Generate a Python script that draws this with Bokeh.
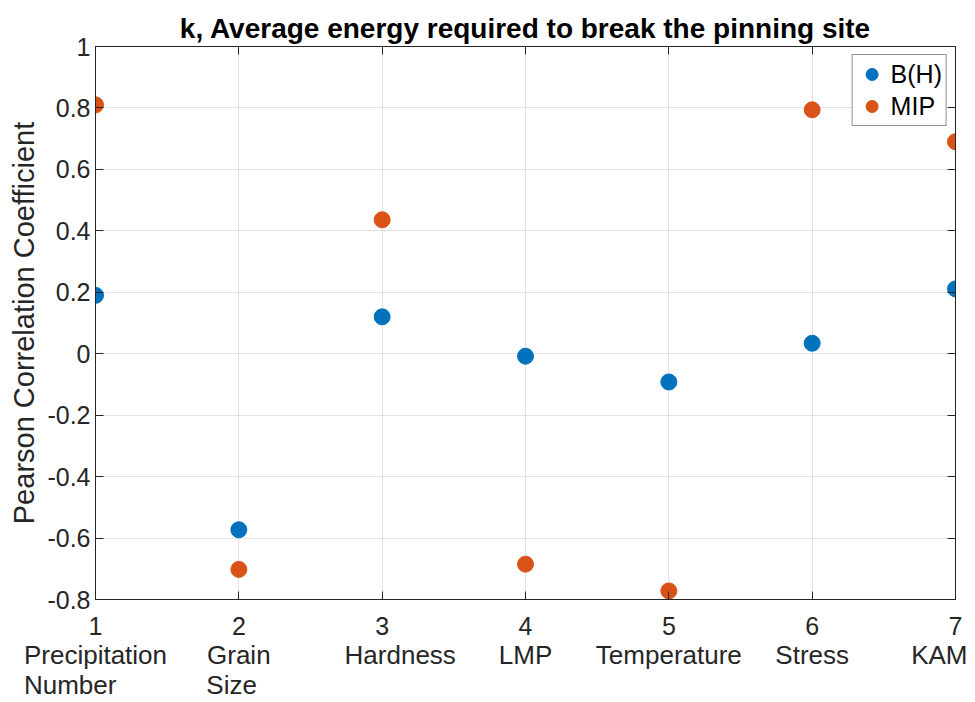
from bokeh.plotting import figure
from bokeh.models import (LinearAxis, FixedTicker, Range1d, CustomJSTickFormatter,
                          Legend, LegendItem, ColumnDataSource)
from bokeh.embed import file_html
from bokeh.resources import INLINE

# ---- data ----
x_pos = [1, 2, 3, 4, 5, 6, 7]
categories = ["Precipitation\nNumber", "Grain\nSize", "Hardness", "LMP",
              "Temperature", "Stress", "KAM"]
bh_values = [0.19, -0.573, 0.12, -0.008, -0.092, 0.034, 0.211]
mip_values = [0.81, -0.702, 0.436, -0.685, -0.772, 0.794, 0.69]
y_ticks = [-0.8, -0.6, -0.4, -0.2, 0, 0.2, 0.4, 0.6, 0.8, 1]
y_tick_labels = ["-0.8", "-0.6", "-0.4", "-0.2", "0", "0.2", "0.4", "0.6", "0.8", "1"]
x_tick_labels = ["1", "2", "3", "4", "5", "6", "7"]

FONT = "Liberation Sans"
AX = "#262626"
BLUE = "#0072BD"
ORANGE = "#D95319"
NB = "\u00a0"

# lines of the two-line labels are left-aligned in the original: pad the
# shorter second line with no-break spaces so that the centred block looks the same;
# "Hardness" sits a little right of its tick in the original
def display_label(label):
    lines = label.split("\n")
    if len(lines) == 1:
        return NB * 5 + label if label == "Hardness" else label
    first, second = lines
    pad = {"Number": 7, "Size": 2}.get(second, 0)
    return first + "\n" + second + NB * pad

cat_display = [display_label(c) for c in categories]

p = figure(width=967, height=702, output_backend="svg", toolbar_location=None,
           x_range=Range1d(1, 7), y_range=Range1d(-0.8, 1),
           title="k, Average energy required to break the pinning site",
           min_border_left=95, min_border_right=12, min_border_top=46,
           min_border_bottom=100)

p.title.text_font = FONT
p.title.text_font_size = "28px"
p.title.text_font_style = "bold"
p.title.text_color = "#000000"
p.title.align = "center"
p.title.standoff = 6

src_bh = ColumnDataSource(dict(x=x_pos, y=bh_values))
src_mip = ColumnDataSource(dict(x=x_pos, y=mip_values))
r_bh = p.scatter("x", "y", source=src_bh, size=16, color=BLUE, line_color=BLUE)
r_mip = p.scatter("x", "y", source=src_mip, size=16, color=ORANGE, line_color=ORANGE)

xt = FixedTicker(ticks=x_pos)
yt = FixedTicker(ticks=y_ticks)

# grid
p.xgrid.ticker = xt
p.ygrid.ticker = yt
for g in (p.xgrid, p.ygrid):
    g.grid_line_color = AX
    g.grid_line_alpha = 0.13
    g.grid_line_width = 1

p.outline_line_color = AX
p.outline_line_width = 1

def style_axis(ax, size="25px"):
    ax.axis_line_color = AX
    ax.axis_line_width = 1
    ax.major_tick_line_color = AX
    ax.major_tick_in = 8
    ax.major_tick_out = 0
    ax.minor_tick_in = 0
    ax.minor_tick_out = 0
    ax.major_label_text_font = FONT
    ax.major_label_text_font_size = size
    ax.major_label_text_color = AX

# x axis (numbers)
xa = p.xaxis[0]
xa.ticker = xt
xa.major_label_overrides = {i: s for i, s in zip(x_pos, x_tick_labels)}
style_axis(xa)
xa.major_label_standoff = 17

# category axis below
ca = LinearAxis(ticker=xt, major_label_overrides={i: s for i, s in zip(x_pos, cat_display)})
style_axis(ca, "26px")
ca.axis_line_color = None
ca.major_tick_line_color = None
ca.major_tick_in = 0
ca.major_label_standoff = 2
ca.major_label_text_line_height = 1.0
p.add_layout(ca, "below")

# y axis
ya = p.yaxis[0]
ya.ticker = yt
ya.major_label_overrides = {v: s for v, s in zip(y_ticks, y_tick_labels)}
style_axis(ya)
ya.major_label_standoff = 5
ya.axis_label = "Pearson Correlation Coefficient"
ya.axis_label_text_font = FONT
ya.axis_label_text_font_size = "29px"
ya.axis_label_text_font_style = "normal"
ya.axis_label_text_color = AX
ya.axis_label_standoff = 4

# box axes (top, right) with inward ticks, no labels
empty = CustomJSTickFormatter(code="return ''")
ta = LinearAxis(ticker=xt, formatter=empty)
style_axis(ta)
ta.major_label_standoff = 0
ta.major_label_text_font_size = "1px"
p.add_layout(ta, "above")
ra = LinearAxis(ticker=yt, formatter=empty)
style_axis(ra)
ra.major_label_standoff = 0
ra.major_label_text_font_size = "1px"
p.add_layout(ra, "right")

legend = Legend(items=[LegendItem(label="B(H)", renderers=[r_bh]),
                       LegendItem(label="MIP", renderers=[r_mip])],
                location="top_right")
legend.margin = 8
legend.padding = 4
legend.spacing = 2
legend.border_line_color = AX
legend.border_line_width = 1
legend.background_fill_color = "white"
legend.background_fill_alpha = 1
legend.label_text_font = FONT
legend.label_text_font_size = "25px"
legend.label_text_color = "#000000"
legend.glyph_width = 30
legend.glyph_height = 30
legend.label_standoff = 4
p.add_layout(legend)

open("out.html", "w").write(file_html(p, INLINE))
